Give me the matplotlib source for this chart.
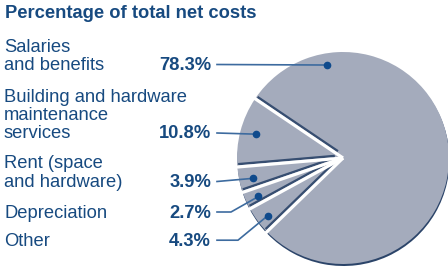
import numpy as np
import matplotlib.pyplot as plt

plt.rcParams['font.family'] = ['Liberation Sans', 'DejaVu Sans']

# ----------------- data -----------------
categories = ['Salaries\nand benefits',
              'Building and hardware\nmaintenance\nservices',
              'Rent (space\nand hardware)',
              'Depreciation',
              'Other']
shares = [78.3, 10.8, 3.9, 2.7, 4.3]
pct_labels = ['78.3%', '10.8%', '3.9%', '2.7%', '4.3%']
title = 'Percentage of total net costs'

# ----------------- layout (pixel units, y measured from top) -----------------
W, H = 448, 267
navy = '#174a80'
line_col = '#3d6b9f'
pie_col = '#a4abbc'
shadow_col = '#2b4469'

cx, cy, R = 343, 158, 106
start = 146 - shares[0] * 3.6          # salaries wedge ends at ~146 deg
baselines = [70, 138.5, 187, 217.5, 245.7]   # baseline of last text line
line_h = 18.5
fs = 13.2
pct_right = 211
lead_x0 = 217
elbow_x = [None, None, None, 231, 238]
anchor_frac = [0.836, 0.48, 0.56, 0.57, 0.57]
anchor_r = [0.89, 0.85, 0.87, 0.876, 0.895]

fig = plt.figure(figsize=(W / 100, H / 100), dpi=100)
ax = fig.add_axes([0, 0, 1, 1])


def fy(y):
    return H - y


# shadow under the pie (dark rim at bottom)
ax.pie(shares, startangle=start, counterclock=True, radius=R,
       center=(cx + 0.5, fy(cy) - 2), colors=[shadow_col] * len(shares),
       wedgeprops=dict(linewidth=0))
wedges, _ = ax.pie(shares, startangle=start, counterclock=True, radius=R,
                   center=(cx, fy(cy)), colors=[pie_col] * len(shares),
                   wedgeprops=dict(linewidth=0))

# separators between wedges: dark shadow on the clockwise side, white gap
bounds = start + np.cumsum([0] + shares[:-1]) * 3.6
for th in np.deg2rad(bounds):
    ux, uy = np.cos(th), np.sin(th)
    px, py = np.sin(th), -np.cos(th)
    d = 2.8
    ax.plot([cx + 8 * ux + d * px, cx + (R - 1) * ux + d * px],
            [fy(cy) + 8 * uy + d * py, fy(cy) + (R - 1) * uy + d * py],
            color=shadow_col, lw=1.7, alpha=0.9, solid_capstyle='butt', zorder=3)
    ax.plot([cx, cx + (R + 3) * ux], [fy(cy), fy(cy) + (R + 3) * uy],
            color='white', lw=2.3, solid_capstyle='butt', zorder=4)

# title
ax.text(4.7, fy(18.3), title, fontsize=fs, fontweight='bold', color=navy,
        ha='left', va='baseline')

# labels, percentages and leader lines
for i, (lab, pct) in enumerate(zip(categories, pct_labels)):
    lines = lab.split('\n')
    base = baselines[i]
    for k, ln in enumerate(lines):
        y = base - (len(lines) - 1 - k) * line_h
        ax.text(4, fy(y), ln, fontsize=fs, color=navy, ha='left', va='baseline')
    ax.text(pct_right, fy(base), pct, fontsize=fs, fontweight='bold',
            color=navy, ha='right', va='baseline')

    w = wedges[i]
    ang = np.deg2rad(w.theta1 + anchor_frac[i] * (w.theta2 - w.theta1))
    dx = cx + anchor_r[i] * R * np.cos(ang)
    dy = fy(cy) + anchor_r[i] * R * np.sin(ang)
    ly = fy(base - 5.5)
    xs, ys = [lead_x0], [ly]
    if elbow_x[i] is not None:
        xs.append(elbow_x[i])
        ys.append(ly)
    xs.append(dx)
    ys.append(dy)
    ax.plot(xs, ys, color=line_col, lw=1.2, zorder=5)
    ax.plot(dx, dy, 'o', color='#0f4a8c', ms=4.5, zorder=6)

ax.set_xlim(0, W)
ax.set_ylim(0, H)
ax.set_aspect('auto')
ax.axis('off')

fig.savefig('out.png', dpi=100)
